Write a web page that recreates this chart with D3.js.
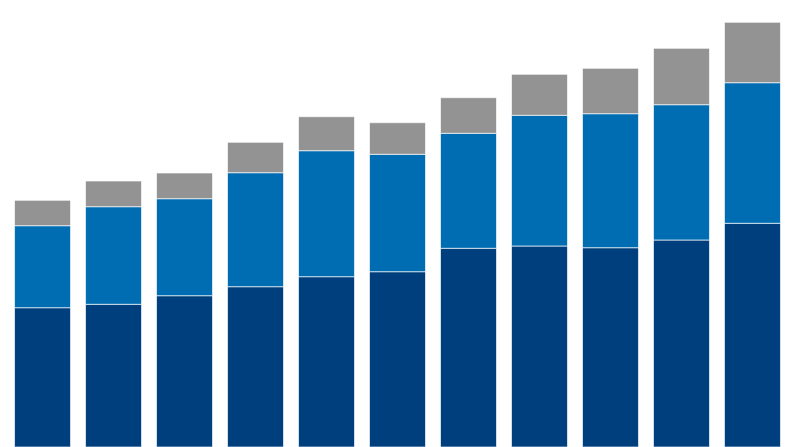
<!DOCTYPE html>
<html>
<head>
<meta charset="utf-8">
<script src="https://cdn.jsdelivr.net/npm/d3@7"></script>
<style>
  html, body { margin: 0; padding: 0; background: #ffffff; }
  svg { display: block; }
</style>
</head>
<body>
<svg id="chart" width="795" height="447"></svg>
<script>
const categories = ["1", "2", "3", "4", "5", "6", "7", "8", "9", "10", "11"];
const seriesNames = ["base", "middle", "top"];
const baseValues   = [139.3, 142.7, 151.3, 160.3, 170.3, 175.3, 198.7, 201.0, 199.3, 207.0, 223.7];
const middleValues = [82.0, 97.6, 97.0, 114.0, 126.0, 117.4, 115.0, 130.7, 134.0, 135.3, 140.6];
const topValues    = [25.4, 25.7, 25.7, 30.4, 34.0, 31.6, 35.6, 41.0, 45.4, 56.4, 60.4];
const colors = ["#003f7d", "#006db2", "#939393"];

const W = 795, H = 447;
const svg = d3.select("#chart");

const rows = categories.map((c, i) => ({
  cat: c, base: baseValues[i], middle: middleValues[i], top: topValues[i]
}));
const stack = d3.stack().keys(seriesNames)(rows);

const x = d3.scaleBand()
  .domain(categories)
  .range([7, 788])
  .paddingInner(0.2113)
  .paddingOuter(0.106);

const y = d3.scaleLinear().domain([0, 447]).range([H, 0]);

svg.append("g")
  .selectAll("g")
  .data(stack)
  .join("g")
  .attr("fill", (d, i) => colors[i])
  .selectAll("rect")
  .data(d => d)
  .join("rect")
  .attr("x", d => x(d.data.cat))
  .attr("width", x.bandwidth())
  .attr("y", d => y(d[1]))
  .attr("height", d => y(d[0]) - y(d[1]))
  .attr("stroke", "rgba(255,255,255,0.65)")
  .attr("stroke-width", 1);
</script>
</body>
</html>
